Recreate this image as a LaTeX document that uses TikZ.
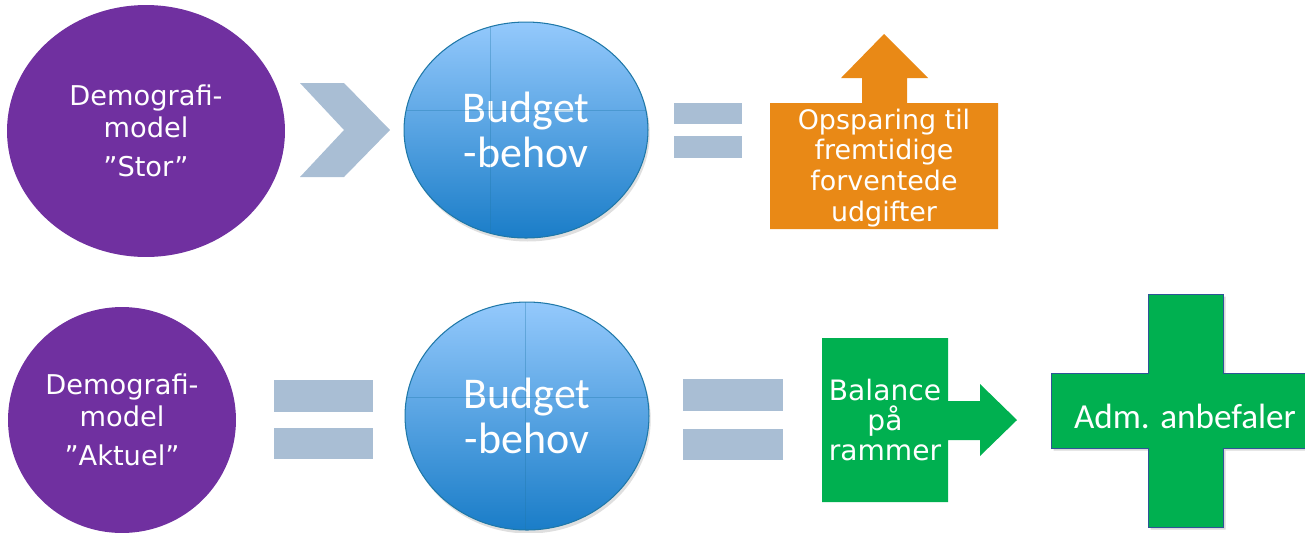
\documentclass[tikz,border=0pt]{standalone}
\usepackage{fontspec}
\usepackage{tikz}
\usetikzlibrary{shapes.geometric, shadows}

\newfontfamily\vfont{DejaVu Sans}
\newfontfamily\cfont{Carlito}

\definecolor{demo}{HTML}{7030A0}
\definecolor{bar}{HTML}{A9BED4}
\definecolor{budtop}{HTML}{94C9FC}
\definecolor{budbot}{HTML}{1A7DC8}
\definecolor{budline}{HTML}{1F78A8}
\definecolor{spar}{HTML}{E98916}
\definecolor{gron}{HTML}{00B050}
\definecolor{kant}{HTML}{2F5597}

\tikzset{
    demo/.style={ellipse, fill=demo, text=white, inner sep=0pt, align=center,
        font=\vfont\fontsize{15.5}{18}\selectfont},
    budget/.style={ellipse, draw=budline, semithick, top color=budtop, bottom color=budbot,
        text=white, inner sep=0pt, align=center, font=\cfont\fontsize{25}{25.6}\selectfont,
        drop shadow={opacity=0.25, shadow xshift=1pt, shadow yshift=-2pt}},
    faint/.style={budline, opacity=0.35, line width=0.4pt},
    boxtext/.style={text=white, align=center, inner sep=0pt},
}

\begin{document}
\begin{tikzpicture}[x=0.02cm, y=-0.02cm]
    \useasboundingbox (0, 0) rectangle (1305, 532);
    \clip (0, 0) rectangle (1305, 532);

    % top row
    \node[demo, minimum width=5.56cm, minimum height=5.04cm] at (146, 131) (demoS)
        {Demografi-\\model\\[4.5pt]”Stor”};
    \fill[bar] (300, 83) -- (344, 83) -- (390, 130) -- (344, 177) -- (300, 177) -- (344, 130) -- cycle;
    \node[budget, minimum width=4.88cm, minimum height=4.32cm] at (526, 130) (budS) {Budget\\-behov};
    \draw[faint] (490, 27) -- (490, 233);
    \draw[faint] (406, 110) -- (646, 110);
    \fill[bar] (674, 103) rectangle (742, 124);
    \fill[bar] (674, 136) rectangle (742, 158);
    \fill[spar] (770, 229) -- (770, 103) -- (862, 103) -- (862, 78) -- (841, 78) -- (884, 34)
        -- (928, 78) -- (907, 78) -- (907, 103) -- (998, 103) -- (998, 229) -- cycle;
    \node[boxtext, font=\vfont\fontsize{15.3}{17.6}\selectfont] at (884, 168) (spar)
        {Opsparing til\\fremtidige\\forventede\\udgifter};

    % bottom row
    \node[demo, minimum width=4.56cm, minimum height=4.52cm] at (122, 420) (demoA)
        {Demografi-\\model\\[4.5pt]”Aktuel”};
    \fill[bar] (274, 380) rectangle (373, 412);
    \fill[bar] (274, 428) rectangle (373, 459);
    \node[budget, minimum width=4.88cm, minimum height=4.56cm] at (527, 416) (budA) {Budget\\-behov};
    \draw[faint] (525, 302) -- (525, 530);
    \draw[faint] (407, 397) -- (647, 397);
    \fill[bar] (683, 379) rectangle (783, 411);
    \fill[bar] (683, 429) rectangle (783, 460);
    \fill[gron] (822, 502) -- (822, 338) -- (948, 338) -- (948, 401) -- (980, 401) -- (980, 384)
        -- (1017, 420) -- (980, 456) -- (980, 440) -- (948, 440) -- (948, 502) -- cycle;
    \node[boxtext, font=\vfont\fontsize{16}{17}\selectfont] at (885, 420) (bal)
        {Balance\\på\\rammer};
    \filldraw[fill=gron, draw=kant, thin, drop shadow={opacity=0.3, shadow xshift=1.5pt, shadow yshift=-1.5pt}]
        (1148, 294) -- (1223, 294) -- (1223, 373) -- (1319, 373) -- (1319, 448) -- (1223, 448)
        -- (1223, 527) -- (1148, 527) -- (1148, 448) -- (1051, 448) -- (1051, 373) -- (1148, 373) -- cycle;
    \node[boxtext, font=\cfont\fontsize{20}{22}\selectfont] at (1185, 416) (adm) {Adm. anbefaler};
\end{tikzpicture}
\end{document}
